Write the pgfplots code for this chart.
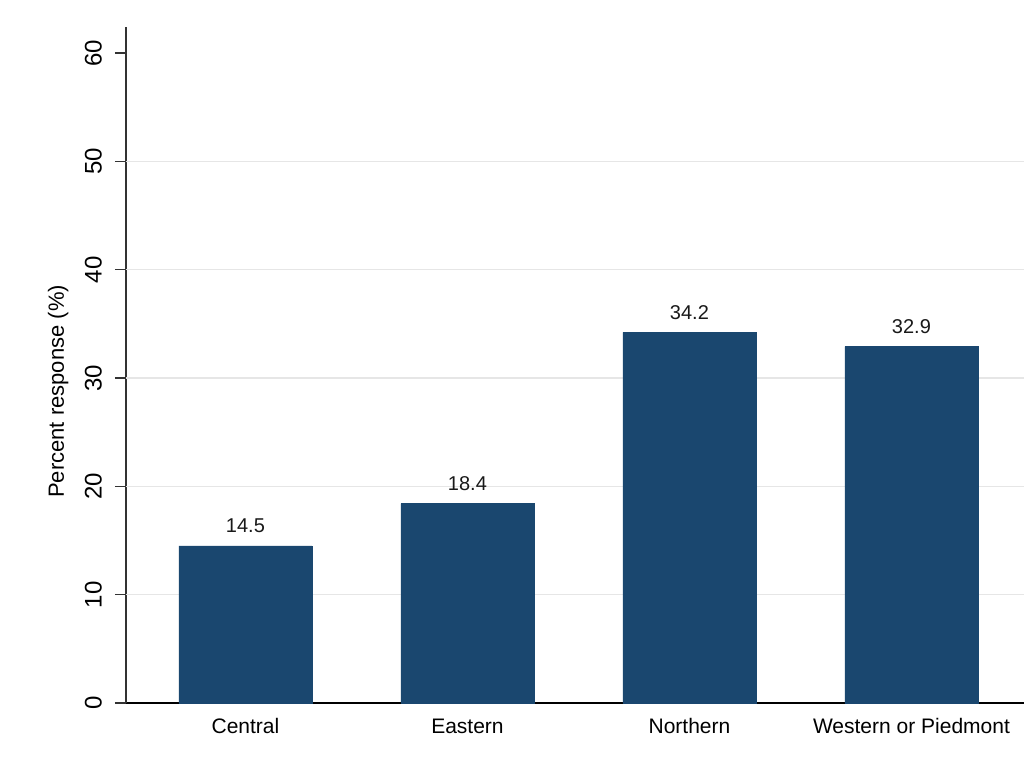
\documentclass[border=0pt]{standalone}
\usepackage{pgfplots}
\pgfplotsset{compat=1.18}
\usepackage{fontspec}
\setmainfont{Liberation Sans}
\definecolor{barblue}{HTML}{1A476F}
\definecolor{gridgray}{HTML}{E6E6E6}
\definecolor{axisgray}{HTML}{333333}
\begin{document}
\begin{tikzpicture}
\useasboundingbox (-126pt,-60pt) rectangle (898pt,703pt);
\begin{axis}[
  at={(0pt,0pt)}, anchor=south west,
  scale only axis, width=898pt, height=676pt,
  xmin=-0.538, xmax=3.507, ymin=0, ymax=62.4,
  clip=false,
  axis x line=bottom, axis y line=left, axis line style={-},
  x axis line style={black, line width=1.5pt},
  y axis line style={axisgray, line width=1.5pt},
  /pgf/number format/assume math mode=true,
  xtick={0,1,2,3},
  xticklabels={Central,Eastern,Northern,Western or Piedmont},
  x tick style={draw=none},
  xticklabel style={font=\fontsize{21}{25}\selectfont, anchor=base, inner sep=0pt, yshift=-19pt},
  ytick={0,10,20,30,40,50,60},
  y tick style={axisgray, line width=1.2pt},
  tick align=outside, major tick length=11pt,
  yticklabel style={font=\fontsize{24}{28}\selectfont, xshift=-13pt, rotate=90, anchor=south, inner sep=0pt},
  extra y ticks={10,20,30,40,50},
  extra y tick labels={},
  extra y tick style={ymajorgrids=true, major tick length=0pt},
  major grid style={gridgray, line width=1.6pt},
  ylabel={Percent response (\%)},
  ylabel style={font=\fontsize{22}{26}\selectfont, at={(axis description cs:-0.0755,0.461)}, anchor=center},
  ybar, bar width=133pt,
  nodes near coords={\pgfmathprintnumber[fixed,fixed zerofill,precision=1]{\pgfplotspointmeta}},
  nodes near coords style={font=\fontsize{20}{24}\selectfont, anchor=south, inner sep=0pt, yshift=13pt, text=black!90},
]
\addplot[fill=barblue, draw=barblue] coordinates {(0,14.5) (1,18.4) (2,34.2) (3,32.9)};
\end{axis}
\end{tikzpicture}
\end{document}
